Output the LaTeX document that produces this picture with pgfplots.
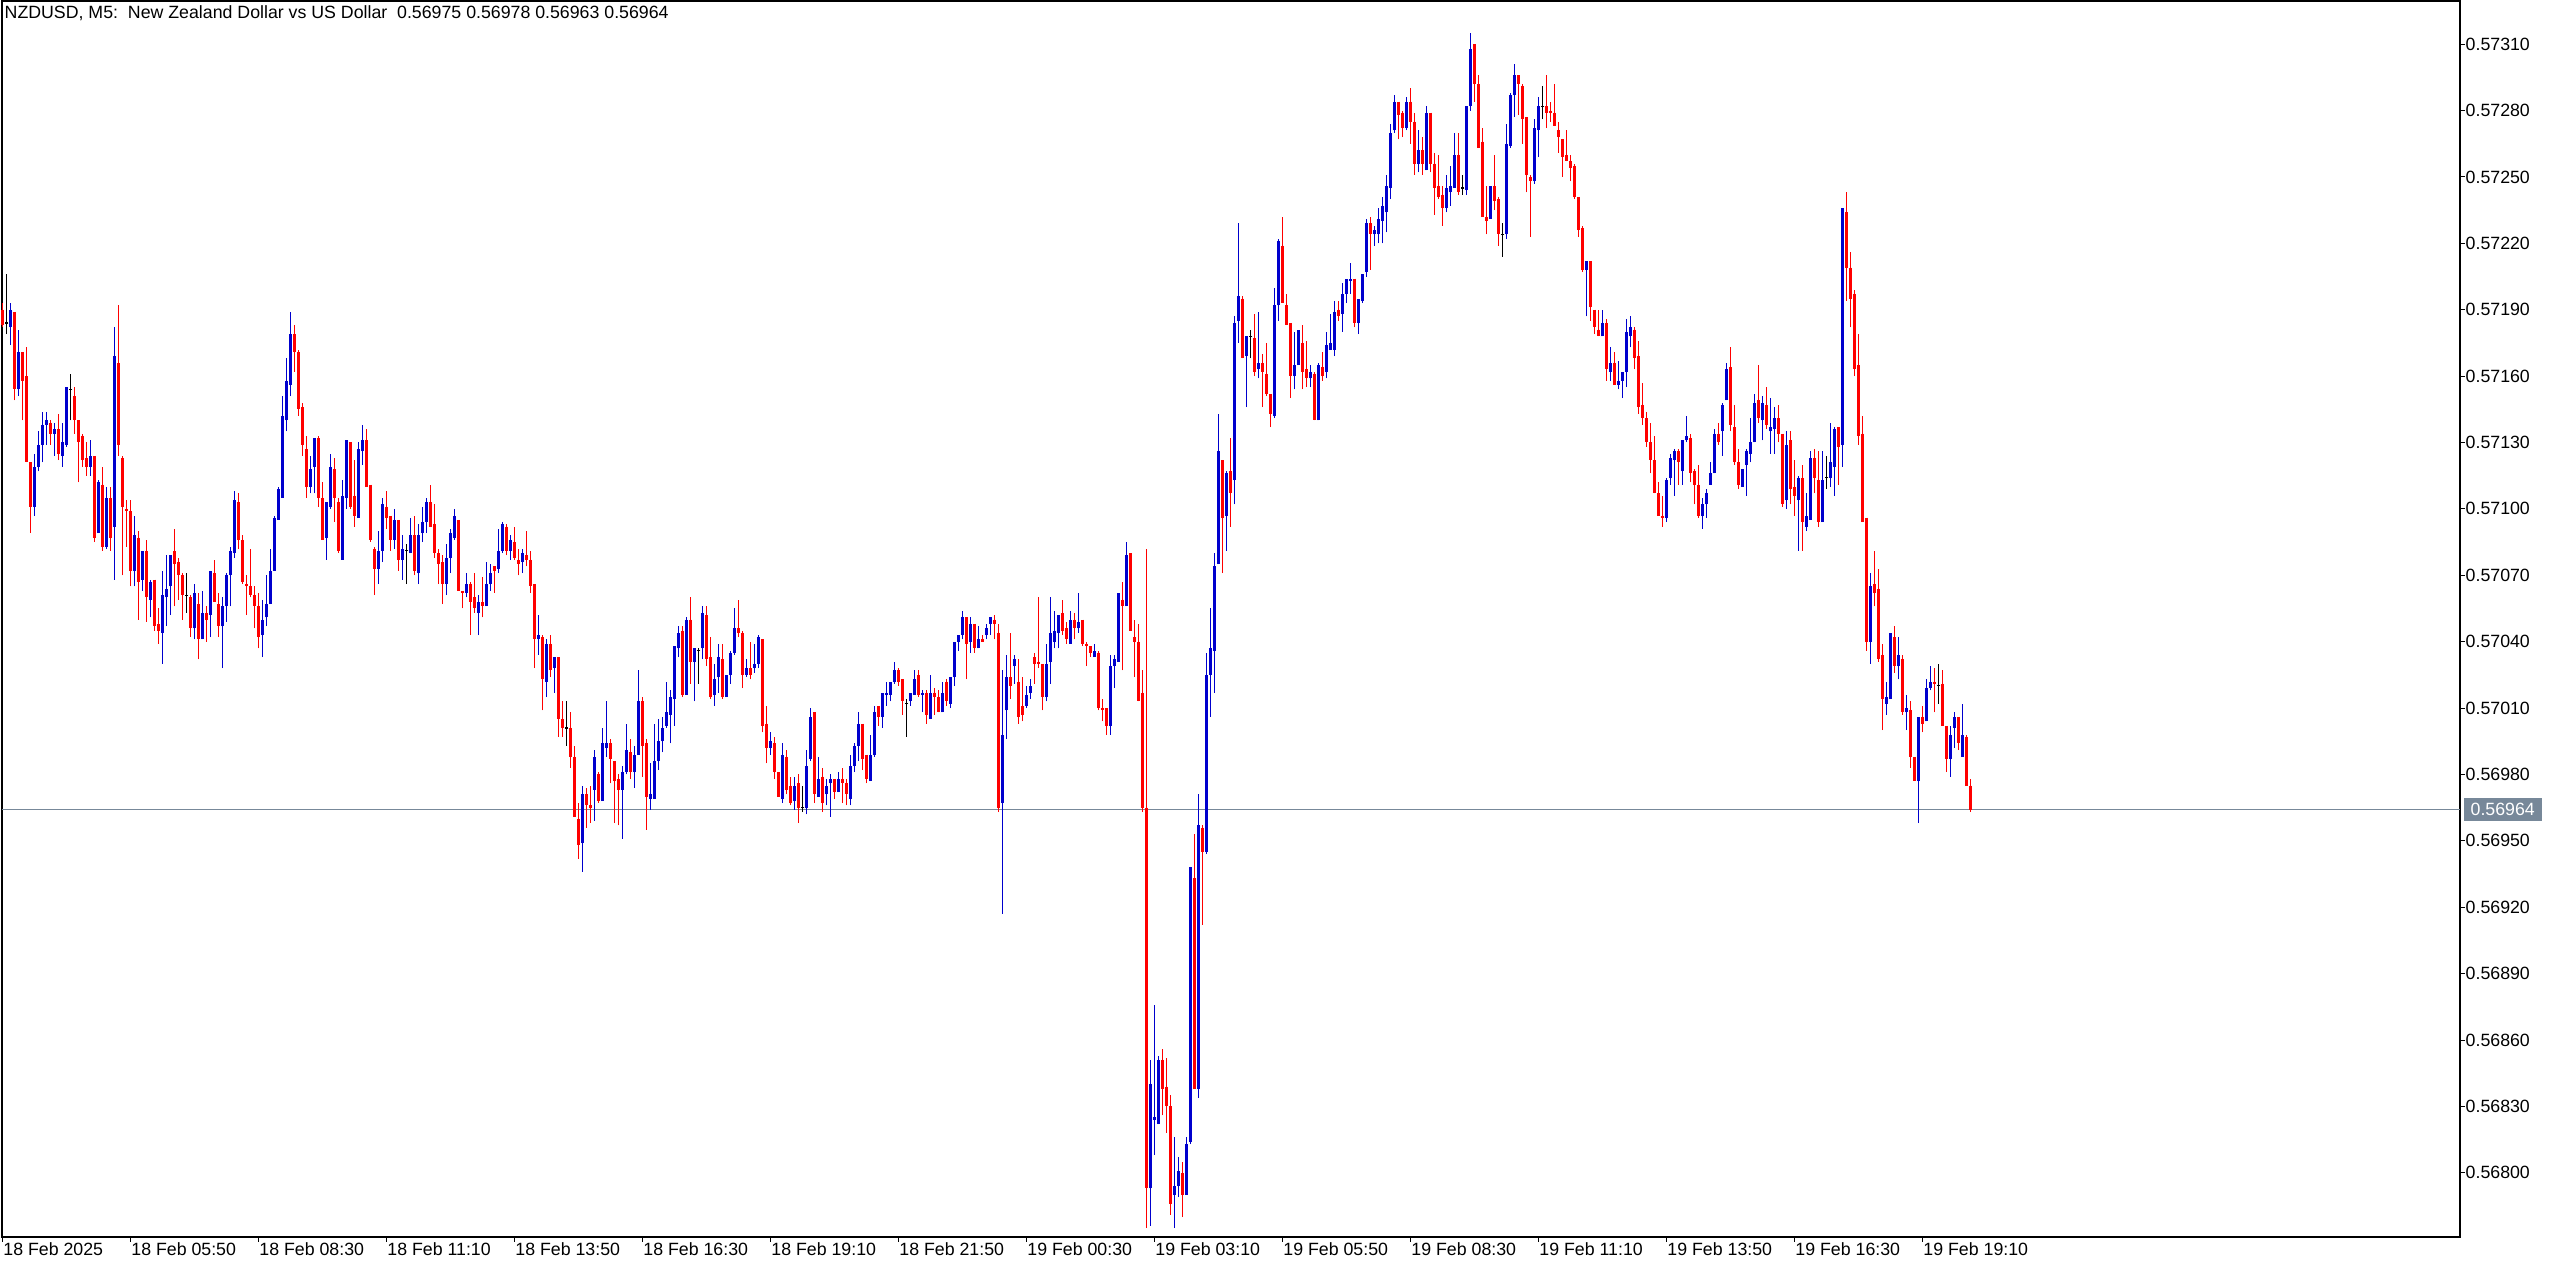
\documentclass[border=0pt]{standalone}
\usepackage{fontspec}
\setmainfont{Liberation Sans}
\usepackage{pgfplots}
\usepackage{pgfplotstable}
\pgfplotsset{compat=1.18}
\definecolor{bull}{RGB}{0,0,205}
\definecolor{bear}{RGB}{255,0,0}
\definecolor{bidline}{RGB}{119,136,153}
\newcommand{\mt}{\fontsize{5.05}{6}\selectfont}

% NZDUSD M5, bar index from 18 Feb 03:10
\pgfplotstableread{
i o h l c
0 0.57190 0.57193 0.57182 0.57183
1 0.57184 0.57206 0.57179 0.57184
2 0.57182 0.57193 0.57174 0.57190
3 0.57189 0.57189 0.57149 0.57154
4 0.57154 0.57181 0.57151 0.57171
5 0.57171 0.57171 0.57140 0.57158
6 0.57160 0.57173 0.57121 0.57121
7 0.57121 0.57121 0.57089 0.57101
8 0.57101 0.57125 0.57097 0.57119
9 0.57119 0.57135 0.57117 0.57129
10 0.57129 0.57144 0.57121 0.57138
11 0.57138 0.57144 0.57129 0.57140
12 0.57139 0.57140 0.57129 0.57134
13 0.57134 0.57139 0.57124 0.57136
14 0.57136 0.57143 0.57122 0.57125
15 0.57124 0.57139 0.57119 0.57130
16 0.57129 0.57155 0.57128 0.57155
17 0.57154 0.57161 0.57140 0.57154
18 0.57151 0.57155 0.57134 0.57140
19 0.57140 0.57140 0.57112 0.57130
20 0.57133 0.57134 0.57119 0.57122
21 0.57123 0.57130 0.57115 0.57119
22 0.57119 0.57131 0.57115 0.57124
23 0.57124 0.57124 0.57085 0.57087
24 0.57089 0.57113 0.57089 0.57112
25 0.57111 0.57119 0.57081 0.57083
26 0.57083 0.57110 0.57082 0.57105
27 0.57105 0.57110 0.57081 0.57087
28 0.57092 0.57182 0.57068 0.57169
29 0.57166 0.57192 0.57124 0.57129
30 0.57123 0.57124 0.57070 0.57101
31 0.57100 0.57104 0.57083 0.57099
32 0.57099 0.57104 0.57065 0.57072
33 0.57072 0.57097 0.57065 0.57088
34 0.57087 0.57090 0.57050 0.57067
35 0.57068 0.57081 0.57063 0.57081
36 0.57081 0.57086 0.57049 0.57060
37 0.57059 0.57068 0.57051 0.57067
38 0.57068 0.57068 0.57045 0.57047
39 0.57048 0.57055 0.57039 0.57045
40 0.57044 0.57072 0.57030 0.57061
41 0.57060 0.57079 0.57047 0.57064
42 0.57065 0.57079 0.57052 0.57079
43 0.57081 0.57091 0.57056 0.57075
44 0.57076 0.57078 0.57059 0.57070
45 0.57070 0.57071 0.57050 0.57061
46 0.57061 0.57071 0.57053 0.57061
47 0.57060 0.57061 0.57042 0.57046
48 0.57046 0.57066 0.57041 0.57062
49 0.57057 0.57062 0.57032 0.57041
50 0.57041 0.57063 0.57041 0.57053
51 0.57053 0.57056 0.57040 0.57050
52 0.57052 0.57072 0.57042 0.57072
53 0.57071 0.57077 0.57058 0.57058
54 0.57057 0.57062 0.57042 0.57047
55 0.57047 0.57060 0.57028 0.57056
56 0.57056 0.57071 0.57049 0.57070
57 0.57070 0.57083 0.57056 0.57081
58 0.57080 0.57108 0.57078 0.57104
59 0.57103 0.57107 0.57082 0.57086
60 0.57086 0.57088 0.57066 0.57067
61 0.57066 0.57070 0.57052 0.57065
62 0.57065 0.57082 0.57060 0.57061
63 0.57061 0.57065 0.57046 0.57056
64 0.57056 0.57062 0.57037 0.57042
65 0.57043 0.57059 0.57033 0.57050
66 0.57051 0.57070 0.57047 0.57057
67 0.57057 0.57082 0.57057 0.57072
68 0.57072 0.57097 0.57072 0.57096
69 0.57095 0.57110 0.57095 0.57109
70 0.57105 0.57151 0.57105 0.57142
71 0.57140 0.57168 0.57135 0.57158
72 0.57156 0.57189 0.57151 0.57179
73 0.57179 0.57183 0.57162 0.57171
74 0.57171 0.57172 0.57142 0.57145
75 0.57146 0.57148 0.57124 0.57129
76 0.57127 0.57133 0.57105 0.57110
77 0.57110 0.57124 0.57107 0.57118
78 0.57119 0.57132 0.57107 0.57132
79 0.57132 0.57133 0.57101 0.57105
80 0.57105 0.57112 0.57086 0.57086
81 0.57087 0.57103 0.57077 0.57103
82 0.57101 0.57125 0.57100 0.57119
83 0.57118 0.57123 0.57094 0.57105
84 0.57103 0.57105 0.57080 0.57081
85 0.57077 0.57113 0.57077 0.57106
86 0.57105 0.57131 0.57100 0.57131
87 0.57130 0.57130 0.57100 0.57101
88 0.57106 0.57122 0.57092 0.57097
89 0.57096 0.57130 0.57096 0.57127
90 0.57126 0.57138 0.57120 0.57131
91 0.57131 0.57136 0.57110 0.57110
92 0.57111 0.57111 0.57085 0.57086
93 0.57082 0.57083 0.57061 0.57073
94 0.57073 0.57090 0.57066 0.57081
95 0.57081 0.57105 0.57076 0.57102
96 0.57101 0.57108 0.57091 0.57096
97 0.57097 0.57097 0.57081 0.57086
98 0.57086 0.57100 0.57082 0.57095
99 0.57095 0.57095 0.57072 0.57077
100 0.57077 0.57088 0.57068 0.57082
101 0.57081 0.57084 0.57066 0.57081
102 0.57080 0.57096 0.57080 0.57088
103 0.57088 0.57097 0.57070 0.57072
104 0.57071 0.57093 0.57066 0.57088
105 0.57089 0.57101 0.57085 0.57094
106 0.57094 0.57105 0.57089 0.57103
107 0.57103 0.57111 0.57092 0.57092
108 0.57093 0.57102 0.57078 0.57080
109 0.57080 0.57082 0.57066 0.57075
110 0.57076 0.57079 0.57057 0.57066
111 0.57066 0.57084 0.57061 0.57078
112 0.57078 0.57091 0.57071 0.57089
113 0.57087 0.57100 0.57086 0.57097
114 0.57095 0.57095 0.57063 0.57063
115 0.57063 0.57063 0.57055 0.57062
116 0.57062 0.57071 0.57060 0.57066
117 0.57066 0.57067 0.57043 0.57058
118 0.57060 0.57071 0.57053 0.57055
119 0.57053 0.57061 0.57043 0.57058
120 0.57058 0.57069 0.57051 0.57056
121 0.57056 0.57076 0.57056 0.57066
122 0.57066 0.57075 0.57063 0.57071
123 0.57074 0.57074 0.57062 0.57072
124 0.57073 0.57091 0.57071 0.57081
125 0.57081 0.57094 0.57080 0.57093
126 0.57092 0.57093 0.57079 0.57081
127 0.57081 0.57088 0.57077 0.57086
128 0.57085 0.57092 0.57077 0.57078
129 0.57077 0.57082 0.57070 0.57075
130 0.57076 0.57082 0.57071 0.57080
131 0.57079 0.57090 0.57074 0.57077
132 0.57077 0.57081 0.57062 0.57065
133 0.57066 0.57066 0.57028 0.57041
134 0.57041 0.57052 0.57034 0.57043
135 0.57042 0.57043 0.57009 0.57023
136 0.57022 0.57041 0.57015 0.57039
137 0.57039 0.57043 0.57024 0.57027
138 0.57028 0.57033 0.57017 0.57033
139 0.57033 0.57033 0.56997 0.57005
140 0.57005 0.57013 0.56997 0.57001
141 0.57001 0.57013 0.56993 0.57001
142 0.57001 0.57008 0.56983 0.56988
143 0.56988 0.56993 0.56961 0.56961
144 0.56960 0.56967 0.56942 0.56948
145 0.56949 0.56975 0.56936 0.56971
146 0.56971 0.56974 0.56956 0.56966
147 0.56966 0.56975 0.56958 0.56965
148 0.56973 0.56991 0.56959 0.56988
149 0.56980 0.56981 0.56967 0.56968
150 0.56968 0.57001 0.56968 0.56994
151 0.56992 0.57013 0.56988 0.56994
152 0.56994 0.56996 0.56976 0.56987
153 0.56986 0.56986 0.56958 0.56977
154 0.56978 0.56980 0.56957 0.56973
155 0.56973 0.56984 0.56951 0.56981
156 0.56981 0.57003 0.56980 0.56991
157 0.56990 0.56996 0.56978 0.56981
158 0.56981 0.56993 0.56974 0.56989
159 0.56989 0.57027 0.56989 0.57013
160 0.57013 0.57015 0.56979 0.56993
161 0.56994 0.56996 0.56955 0.56970
162 0.56969 0.56985 0.56964 0.56971
163 0.56969 0.57003 0.56969 0.56986
164 0.56986 0.57005 0.56982 0.56995
165 0.56995 0.57006 0.56990 0.57001
166 0.57002 0.57022 0.57001 0.57008
167 0.57007 0.57018 0.56994 0.57015
168 0.57014 0.57038 0.57002 0.57038
169 0.57037 0.57047 0.57033 0.57044
170 0.57045 0.57047 0.57015 0.57016
171 0.57016 0.57051 0.57016 0.57050
172 0.57050 0.57060 0.57021 0.57031
173 0.57031 0.57037 0.57013 0.57037
174 0.57036 0.57037 0.57021 0.57036
175 0.57037 0.57056 0.57032 0.57053
176 0.57052 0.57056 0.57029 0.57032
177 0.57033 0.57042 0.57014 0.57015
178 0.57016 0.57030 0.57011 0.57023
179 0.57024 0.57039 0.57017 0.57033
180 0.57032 0.57039 0.57014 0.57015
181 0.57015 0.57025 0.57015 0.57025
182 0.57025 0.57036 0.57021 0.57035
183 0.57035 0.57055 0.57034 0.57046
184 0.57046 0.57059 0.57042 0.57044
185 0.57044 0.57045 0.57019 0.57025
186 0.57025 0.57032 0.57024 0.57028
187 0.57028 0.57040 0.57023 0.57025
188 0.57028 0.57039 0.57026 0.57030
189 0.57030 0.57043 0.57028 0.57042
190 0.57041 0.57041 0.56999 0.57002
191 0.57003 0.57011 0.56985 0.56992
192 0.56992 0.56999 0.56989 0.56995
193 0.56994 0.56997 0.56978 0.56981
194 0.56981 0.56981 0.56970 0.56970
195 0.56969 0.56994 0.56967 0.56989
196 0.56988 0.56991 0.56971 0.56973
197 0.56975 0.56979 0.56966 0.56967
198 0.56968 0.56979 0.56964 0.56975
199 0.56976 0.56980 0.56958 0.56965
200 0.56965 0.56975 0.56963 0.56965
201 0.56965 0.56991 0.56962 0.56984
202 0.56987 0.57010 0.56986 0.57006
203 0.57008 0.57008 0.56967 0.56971
204 0.56970 0.56988 0.56970 0.56978
205 0.56979 0.56983 0.56963 0.56967
206 0.56971 0.56978 0.56966 0.56975
207 0.56976 0.56980 0.56961 0.56978
208 0.56978 0.56978 0.56969 0.56972
209 0.56972 0.56981 0.56972 0.56978
210 0.56978 0.56983 0.56967 0.56976
211 0.56976 0.56978 0.56966 0.56971
212 0.56969 0.56989 0.56966 0.56984
213 0.56984 0.56994 0.56981 0.56993
214 0.56993 0.57008 0.56986 0.57003
215 0.57003 0.57003 0.56982 0.56987
216 0.56989 0.56989 0.56976 0.56978
217 0.56977 0.56998 0.56977 0.56989
218 0.56989 0.57011 0.56988 0.57008
219 0.57011 0.57011 0.57002 0.57006
220 0.57006 0.57017 0.57001 0.57017
221 0.57016 0.57022 0.57011 0.57017
222 0.57016 0.57022 0.57013 0.57022
223 0.57022 0.57031 0.57021 0.57027
224 0.57027 0.57028 0.57020 0.57022
225 0.57023 0.57023 0.57007 0.57013
226 0.57012 0.57014 0.56997 0.57012
227 0.57013 0.57017 0.57011 0.57017
228 0.57016 0.57027 0.57016 0.57023
229 0.57025 0.57027 0.57015 0.57016
230 0.57016 0.57018 0.57008 0.57017
231 0.57017 0.57018 0.57003 0.57007
232 0.57005 0.57025 0.57005 0.57017
233 0.57017 0.57019 0.57007 0.57015
234 0.57015 0.57018 0.57008 0.57008
235 0.57008 0.57022 0.57008 0.57017
236 0.57022 0.57023 0.57011 0.57013
237 0.57012 0.57024 0.57010 0.57024
238 0.57024 0.57040 0.57020 0.57040
239 0.57040 0.57043 0.57036 0.57043
240 0.57043 0.57054 0.57041 0.57051
241 0.57051 0.57051 0.57023 0.57039
242 0.57040 0.57051 0.57035 0.57048
243 0.57048 0.57048 0.57035 0.57037
244 0.57037 0.57047 0.57037 0.57041
245 0.57041 0.57043 0.57040 0.57040
246 0.57043 0.57048 0.57041 0.57046
247 0.57048 0.57051 0.57043 0.57051
248 0.57050 0.57052 0.57041 0.57048
249 0.57044 0.57048 0.56963 0.56965
250 0.56967 0.57027 0.56917 0.56998
251 0.57009 0.57034 0.56996 0.57024
252 0.57024 0.57044 0.57014 0.57020
253 0.57029 0.57034 0.57021 0.57032
254 0.57022 0.57032 0.57003 0.57006
255 0.57011 0.57024 0.57004 0.57007
256 0.57011 0.57020 0.57010 0.57016
257 0.57017 0.57023 0.57014 0.57020
258 0.57033 0.57035 0.57021 0.57030
259 0.57031 0.57060 0.57028 0.57030
260 0.57030 0.57030 0.57009 0.57015
261 0.57015 0.57039 0.57013 0.57030
262 0.57031 0.57060 0.57021 0.57044
263 0.57040 0.57054 0.57037 0.57045
264 0.57044 0.57052 0.57037 0.57052
265 0.57053 0.57059 0.57043 0.57045
266 0.57046 0.57049 0.57039 0.57041
267 0.57039 0.57054 0.57039 0.57050
268 0.57050 0.57053 0.57041 0.57046
269 0.57046 0.57062 0.57044 0.57049
270 0.57050 0.57050 0.57038 0.57039
271 0.57039 0.57040 0.57029 0.57038
272 0.57038 0.57038 0.57033 0.57035
273 0.57033 0.57039 0.57033 0.57036
274 0.57035 0.57036 0.57009 0.57010
275 0.57010 0.57014 0.57004 0.57009
276 0.57010 0.57010 0.56998 0.57002
277 0.57002 0.57034 0.56998 0.57029
278 0.57029 0.57034 0.57019 0.57032
279 0.57031 0.57062 0.57031 0.57062
280 0.57059 0.57067 0.57027 0.57056
281 0.57056 0.57085 0.57056 0.57079
282 0.57080 0.57080 0.57045 0.57045
283 0.57042 0.57050 0.57024 0.57040
284 0.57040 0.57048 0.57013 0.57013
285 0.57017 0.57027 0.56963 0.56965
286 0.56965 0.57082 0.56775 0.56793
287 0.56793 0.56851 0.56776 0.56840
288 0.56824 0.56876 0.56808 0.56825
289 0.56822 0.56853 0.56822 0.56851
290 0.56851 0.56856 0.56826 0.56838
291 0.56839 0.56852 0.56818 0.56830
292 0.56830 0.56835 0.56781 0.56786
293 0.56790 0.56816 0.56775 0.56794
294 0.56794 0.56807 0.56789 0.56801
295 0.56800 0.56805 0.56780 0.56790
296 0.56790 0.56816 0.56790 0.56813
297 0.56814 0.56938 0.56813 0.56938
298 0.56933 0.56953 0.56838 0.56838
299 0.56838 0.56971 0.56834 0.56957
300 0.56956 0.56957 0.56912 0.56945
301 0.56945 0.57035 0.56944 0.57025
302 0.57025 0.57055 0.57006 0.57037
303 0.57036 0.57080 0.57017 0.57074
304 0.57075 0.57143 0.57075 0.57126
305 0.57122 0.57122 0.57071 0.57096
306 0.57097 0.57117 0.57081 0.57116
307 0.57117 0.57132 0.57092 0.57107
308 0.57113 0.57187 0.57102 0.57184
309 0.57185 0.57229 0.57175 0.57196
310 0.57195 0.57196 0.57168 0.57168
311 0.57169 0.57178 0.57146 0.57178
312 0.57178 0.57181 0.57168 0.57178
313 0.57177 0.57188 0.57160 0.57162
314 0.57163 0.57189 0.57159 0.57166
315 0.57166 0.57170 0.57146 0.57162
316 0.57161 0.57175 0.57151 0.57152
317 0.57152 0.57152 0.57137 0.57143
318 0.57142 0.57200 0.57141 0.57192
319 0.57192 0.57222 0.57185 0.57221
320 0.57219 0.57232 0.57193 0.57193
321 0.57192 0.57197 0.57183 0.57183
322 0.57184 0.57184 0.57150 0.57160
323 0.57160 0.57180 0.57154 0.57165
324 0.57165 0.57181 0.57165 0.57181
325 0.57175 0.57183 0.57154 0.57162
326 0.57163 0.57176 0.57155 0.57159
327 0.57159 0.57165 0.57155 0.57162
328 0.57161 0.57162 0.57140 0.57140
329 0.57140 0.57166 0.57140 0.57165
330 0.57164 0.57171 0.57158 0.57160
331 0.57162 0.57180 0.57159 0.57174
332 0.57172 0.57188 0.57172 0.57175
333 0.57172 0.57194 0.57169 0.57189
334 0.57190 0.57194 0.57185 0.57187
335 0.57188 0.57202 0.57180 0.57197
336 0.57197 0.57204 0.57193 0.57204
337 0.57203 0.57211 0.57197 0.57204
338 0.57204 0.57204 0.57182 0.57184
339 0.57184 0.57195 0.57179 0.57195
340 0.57194 0.57206 0.57193 0.57206
341 0.57207 0.57231 0.57205 0.57229
342 0.57229 0.57232 0.57208 0.57224
343 0.57224 0.57228 0.57219 0.57226
344 0.57224 0.57236 0.57220 0.57231
345 0.57230 0.57241 0.57220 0.57237
346 0.57234 0.57251 0.57225 0.57246
347 0.57245 0.57274 0.57240 0.57270
348 0.57271 0.57287 0.57270 0.57284
349 0.57284 0.57284 0.57267 0.57278
350 0.57279 0.57280 0.57268 0.57272
351 0.57272 0.57286 0.57271 0.57284
352 0.57284 0.57290 0.57265 0.57275
353 0.57275 0.57279 0.57251 0.57256
354 0.57256 0.57271 0.57252 0.57262
355 0.57262 0.57268 0.57251 0.57256
356 0.57253 0.57282 0.57253 0.57279
357 0.57279 0.57279 0.57252 0.57256
358 0.57256 0.57261 0.57233 0.57245
359 0.57246 0.57260 0.57240 0.57241
360 0.57242 0.57246 0.57228 0.57236
361 0.57236 0.57251 0.57234 0.57245
362 0.57243 0.57255 0.57237 0.57246
363 0.57245 0.57270 0.57245 0.57260
364 0.57260 0.57270 0.57242 0.57243
365 0.57245 0.57251 0.57242 0.57245
366 0.57244 0.57282 0.57242 0.57282
367 0.57282 0.57315 0.57280 0.57308
368 0.57310 0.57310 0.57284 0.57292
369 0.57292 0.57296 0.57263 0.57263
370 0.57266 0.57272 0.57232 0.57232
371 0.57232 0.57246 0.57224 0.57230
372 0.57231 0.57246 0.57231 0.57246
373 0.57246 0.57260 0.57235 0.57239
374 0.57240 0.57241 0.57219 0.57224
375 0.57224 0.57229 0.57214 0.57224
376 0.57224 0.57274 0.57222 0.57265
377 0.57264 0.57288 0.57263 0.57287
378 0.57287 0.57301 0.57277 0.57296
379 0.57296 0.57296 0.57278 0.57292
380 0.57291 0.57292 0.57265 0.57276
381 0.57277 0.57277 0.57243 0.57251
382 0.57250 0.57251 0.57223 0.57248
383 0.57248 0.57276 0.57247 0.57272
384 0.57271 0.57286 0.57259 0.57282
385 0.57282 0.57291 0.57276 0.57282
386 0.57282 0.57296 0.57272 0.57279
387 0.57280 0.57284 0.57275 0.57279
388 0.57279 0.57292 0.57273 0.57273
389 0.57271 0.57275 0.57261 0.57268
390 0.57267 0.57267 0.57250 0.57259
391 0.57260 0.57271 0.57257 0.57257
392 0.57257 0.57260 0.57248 0.57254
393 0.57255 0.57256 0.57240 0.57241
394 0.57241 0.57241 0.57223 0.57226
395 0.57227 0.57228 0.57207 0.57208
396 0.57208 0.57212 0.57187 0.57212
397 0.57212 0.57212 0.57185 0.57191
398 0.57190 0.57190 0.57179 0.57182
399 0.57181 0.57190 0.57178 0.57178
400 0.57178 0.57190 0.57178 0.57184
401 0.57184 0.57186 0.57158 0.57163
402 0.57162 0.57173 0.57158 0.57166
403 0.57166 0.57171 0.57156 0.57156
404 0.57156 0.57167 0.57154 0.57158
405 0.57158 0.57162 0.57150 0.57162
406 0.57162 0.57186 0.57155 0.57180
407 0.57178 0.57187 0.57173 0.57182
408 0.57181 0.57182 0.57163 0.57168
409 0.57169 0.57176 0.57143 0.57146
410 0.57147 0.57157 0.57138 0.57141
411 0.57141 0.57144 0.57128 0.57130
412 0.57130 0.57139 0.57116 0.57122
413 0.57122 0.57133 0.57107 0.57107
414 0.57107 0.57112 0.57097 0.57097
415 0.57097 0.57106 0.57092 0.57096
416 0.57096 0.57114 0.57094 0.57113
417 0.57114 0.57125 0.57111 0.57123
418 0.57122 0.57127 0.57106 0.57126
419 0.57126 0.57127 0.57111 0.57121
420 0.57117 0.57131 0.57111 0.57131
421 0.57131 0.57142 0.57130 0.57133
422 0.57132 0.57134 0.57112 0.57116
423 0.57117 0.57118 0.57102 0.57111
424 0.57111 0.57120 0.57096 0.57097
425 0.57097 0.57105 0.57091 0.57102
426 0.57102 0.57109 0.57096 0.57107
427 0.57111 0.57121 0.57111 0.57116
428 0.57116 0.57136 0.57116 0.57134
429 0.57134 0.57139 0.57129 0.57130
430 0.57135 0.57148 0.57124 0.57147
431 0.57149 0.57166 0.57149 0.57163
432 0.57164 0.57173 0.57135 0.57138
433 0.57137 0.57147 0.57120 0.57121
434 0.57121 0.57127 0.57109 0.57111
435 0.57110 0.57118 0.57110 0.57118
436 0.57120 0.57127 0.57106 0.57126
437 0.57125 0.57141 0.57121 0.57130
438 0.57130 0.57152 0.57130 0.57148
439 0.57149 0.57165 0.57139 0.57141
440 0.57140 0.57151 0.57131 0.57148
441 0.57147 0.57155 0.57136 0.57138
442 0.57135 0.57150 0.57125 0.57137
443 0.57136 0.57146 0.57125 0.57141
444 0.57141 0.57147 0.57130 0.57134
445 0.57134 0.57134 0.57101 0.57102
446 0.57104 0.57135 0.57100 0.57129
447 0.57131 0.57135 0.57102 0.57109
448 0.57110 0.57122 0.57097 0.57106
449 0.57104 0.57115 0.57081 0.57114
450 0.57114 0.57120 0.57081 0.57094
451 0.57092 0.57107 0.57090 0.57097
452 0.57095 0.57126 0.57095 0.57123
453 0.57123 0.57127 0.57107 0.57114
454 0.57113 0.57126 0.57092 0.57094
455 0.57094 0.57126 0.57094 0.57113
456 0.57114 0.57124 0.57109 0.57114
457 0.57114 0.57139 0.57110 0.57121
458 0.57119 0.57137 0.57106 0.57136
459 0.57137 0.57137 0.57111 0.57128
460 0.57129 0.57236 0.57119 0.57236
461 0.57234 0.57243 0.57194 0.57209
462 0.57209 0.57216 0.57182 0.57195
463 0.57197 0.57199 0.57160 0.57163
464 0.57165 0.57179 0.57129 0.57133
465 0.57134 0.57142 0.57094 0.57094
466 0.57096 0.57096 0.57036 0.57040
467 0.57040 0.57071 0.57030 0.57065
468 0.57066 0.57081 0.57056 0.57062
469 0.57064 0.57073 0.57031 0.57032
470 0.57034 0.57039 0.57000 0.57014
471 0.57012 0.57022 0.57007 0.57015
472 0.57014 0.57044 0.57014 0.57044
473 0.57042 0.57047 0.57026 0.57029
474 0.57029 0.57042 0.57023 0.57034
475 0.57032 0.57034 0.57007 0.57008
476 0.57008 0.57016 0.57000 0.57010
477 0.57009 0.57013 0.56983 0.56988
478 0.56988 0.56988 0.56977 0.56977
479 0.56977 0.57006 0.56958 0.57006
480 0.57006 0.57011 0.56999 0.57003
481 0.57004 0.57023 0.57004 0.57019
482 0.57019 0.57029 0.57018 0.57022
483 0.57022 0.57028 0.57008 0.57021
484 0.57020 0.57030 0.57012 0.57020
485 0.57021 0.57027 0.57002 0.57002
486 0.57002 0.57002 0.56981 0.56987
487 0.56987 0.57002 0.56979 0.56998
488 0.57001 0.57008 0.56992 0.57006
489 0.57006 0.57006 0.56991 0.56994
490 0.56988 0.57012 0.56988 0.56998
491 0.56997 0.56998 0.56975 0.56975
492 0.56975 0.56978 0.56963 0.56964
}\bars

\begin{document}
\begin{tikzpicture}
\useasboundingbox (-0.02,-0.33) rectangle (25.54,12.37);
\begin{axis}[
  at={(0,0)}, anchor=south west,
  scale only axis, width=24.58cm, height=12.36cm,
  xmin=-0.175, xmax=614.3, ymin=0.56771, ymax=0.573295,
  clip=false,
  axis line style={black, line width=0.4pt},
  tick align=outside,
  major tick length=0.05cm,
  tick style={black, line width=0.3pt},
  xtick pos=left, ytick pos=right,
  xticklabel pos=left, yticklabel pos=right,
  xtick={0,32,...,480},
  xticklabels={18 Feb 2025, 18 Feb 05:50, 18 Feb 08:30, 18 Feb 11:10, 18 Feb 13:50, 18 Feb 16:30, 18 Feb 19:10, 18 Feb 21:50, 19 Feb 00:30, 19 Feb 03:10, 19 Feb 05:50, 19 Feb 08:30, 19 Feb 11:10, 19 Feb 13:50, 19 Feb 16:30, 19 Feb 19:10},
  ytick={0.56800,0.56830,0.56860,0.56890,0.56920,0.56950,0.56980,0.57010,0.57040,0.57070,0.57100,0.57130,0.57160,0.57190,0.57220,0.57250,0.57280,0.57310},
  scaled y ticks=false,
  ticklabel style={font=\mt},
  xticklabel style={anchor=north west, inner sep=0pt},
  yticklabel style={anchor=west, inner sep=0pt,
    /pgf/number format/fixed, /pgf/number format/fixed zerofill,
    /pgf/number format/precision=5, /pgf/number format/assume math mode=true},
]
% bid line
\addplot[bidline, line width=0.35pt] coordinates {(-0.175,0.56964) (614.3,0.56964)};

% wicks
\addplot[bull, line width=0.3pt, quiver={u=0, v=\thisrow{h}-\thisrow{l}},
  restrict expr to domain={\thisrow{c}-\thisrow{o}}{0.000005:1}]
  table[x=i, y=l] {\bars};
\addplot[bear, line width=0.3pt, quiver={u=0, v=\thisrow{h}-\thisrow{l}},
  restrict expr to domain={\thisrow{c}-\thisrow{o}}{-1:-0.000005}]
  table[x=i, y=l] {\bars};
\addplot[black, line width=0.3pt, quiver={u=0, v=\thisrow{h}-\thisrow{l}},
  restrict expr to domain={\thisrow{c}-\thisrow{o}}{-0.000005:0.000005}]
  table[x=i, y=l] {\bars};

% bodies
\addplot[bull, line width=0.85pt, quiver={u=0, v=\thisrow{c}-\thisrow{o}},
  restrict expr to domain={\thisrow{c}-\thisrow{o}}{0.000005:1}]
  table[x=i, y=o] {\bars};
\addplot[bear, line width=0.85pt, quiver={u=0, v=\thisrow{c}-\thisrow{o}},
  restrict expr to domain={\thisrow{c}-\thisrow{o}}{-1:-0.000005}]
  table[x=i, y=o] {\bars};
\addplot[black, only marks, mark=-, mark size=0.45pt, mark options={line width=0.3pt},
  restrict expr to domain={\thisrow{c}-\thisrow{o}}{-0.000005:0.000005}]
  table[x=i, y=o] {\bars};

\node[anchor=north west, inner sep=0pt, font=\mt, xshift=0.02cm, yshift=-0.04cm]
  at (rel axis cs:0,1) {NZDUSD, M5:\ \ New Zealand Dollar vs US Dollar\ \ 0.56975 0.56978 0.56963 0.56964};
\node[anchor=west, fill=bidline, text=white, font=\mt, inner sep=0pt,
  minimum width=0.78cm, minimum height=0.23cm, xshift=0.03cm]
  at (axis cs:614.3,0.56964) {0.56964};
\end{axis}
\end{tikzpicture}
\end{document}
